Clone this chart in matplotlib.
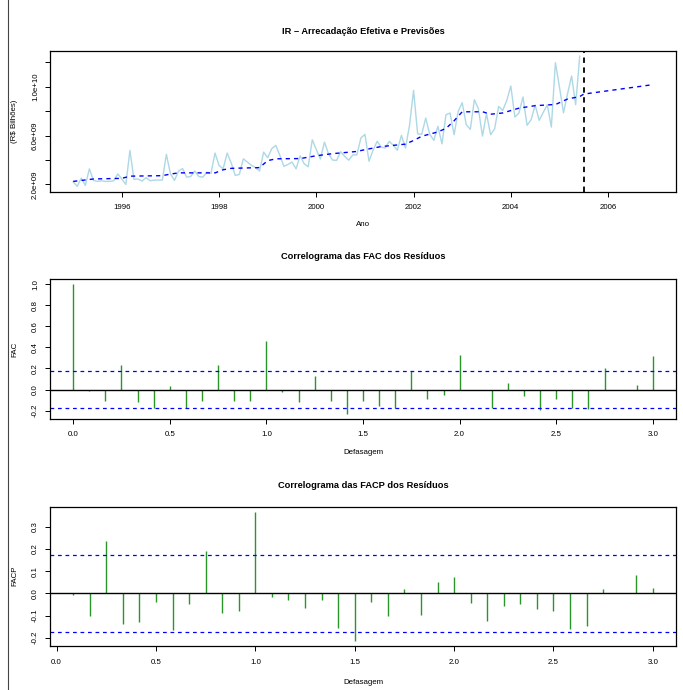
import numpy as np
import matplotlib.pyplot as plt
from matplotlib.lines import Line2D

plt.rcParams['font.family'] = ['Liberation Sans', 'DejaVu Sans']

# arrecadacao mensal do IR, jan/1995 a jun/2005 (R$ bilhoes)
ir_bilhoes = [2.20, 1.85, 2.52, 1.92, 3.28, 2.33, 2.25, 2.30, 2.25, 2.25, 2.30, 2.87,
              2.45, 2.00, 4.79, 2.42, 2.45, 2.28, 2.56, 2.30, 2.36, 2.36, 2.36, 4.46,
              2.87, 2.33, 3.10, 3.30, 2.60, 2.65, 3.10, 2.65, 2.60, 3.00, 2.90, 4.57,
              3.56, 3.28, 4.57, 3.75, 2.74, 2.82, 4.10, 3.83, 3.56, 3.38, 3.10, 4.65,
              4.19, 4.93, 5.20, 4.38, 3.48, 3.64, 3.83, 3.28, 4.35, 3.70, 3.45, 5.66,
              4.85, 4.08, 5.47, 4.52, 4.00, 3.97, 4.68, 4.30, 3.99, 4.42, 4.42, 5.80,
              6.10, 3.90, 4.80, 5.53, 5.07, 4.98, 5.53, 5.20, 4.80, 6.02, 4.98, 6.84,
              9.70, 6.15, 6.10, 7.44, 6.10, 5.61, 6.76, 5.33, 7.71, 7.85, 6.07, 7.98,
              8.69, 6.89, 6.51, 8.94, 8.20, 5.96, 7.79, 6.07, 6.56, 8.39, 8.06, 8.88,
              10.06, 7.52, 7.85, 9.16, 6.84, 7.30, 8.50, 7.25, 7.90, 8.53, 6.70, 11.97,
              9.98, 7.87, 9.43, 10.88, 8.53, 12.50]
inicio = 1995.0

# ajuste + previsao (vertices)
prev_tempo = [1995.00, 1995.42, 1996.00, 1996.17, 1996.83, 1997.00, 1997.17, 1997.92,
              1998.08, 1998.25, 1998.83, 1999.00, 1999.17, 1999.67, 2000.00, 2000.33,
              2000.83, 2001.00, 2001.33, 2001.83, 2002.00, 2002.17, 2002.50, 2002.67,
              2002.83, 2003.00, 2003.42, 2003.58, 2003.83, 2004.17, 2004.50, 2004.92,
              2005.17, 2005.42, 2005.50, 2006.92]
prev_valor = [2.25, 2.45, 2.50, 2.68, 2.72, 2.85, 2.95, 2.95,
              3.20, 3.32, 3.38, 3.95, 4.10, 4.12, 4.35, 4.52,
              4.70, 4.85, 5.10, 5.30, 5.60, 5.95, 6.30, 6.60,
              7.20, 7.95, 7.95, 7.75, 7.85, 8.25, 8.45, 8.55,
              9.00, 9.20, 9.40, 10.17]
corte = 2005.5

# FAC (defasagens 0..36) e FACP (1..36) dos residuos
fac = [1.00, -0.01, -0.105, 0.234, -0.12, -0.177, 0.038, -0.177, -0.11, 0.234,
       -0.105, -0.105, 0.462, -0.02, -0.117, 0.127, -0.105, -0.23, -0.105, -0.152,
       -0.171, 0.177, -0.085, -0.054, 0.329, -0.005, -0.171, 0.063, -0.063, -0.196,
       -0.085, -0.177, -0.187, 0.206, -0.005, 0.041, 0.316]
facp = [-0.009, -0.101, 0.236, -0.138, -0.131, -0.040, -0.163, -0.050, 0.193, -0.089,
        -0.079, 0.366, -0.018, -0.031, -0.068, -0.028, -0.155, -0.214, -0.037, -0.101,
        0.021, -0.097, 0.052, 0.073, -0.042, -0.125, -0.056, -0.048, -0.070, -0.079,
        -0.160, -0.146, 0.019, 0.0, 0.085, 0.024]

fs = 5.7
W, H = 683, 690
fig = plt.figure(figsize=(W / 100, H / 100), dpi=100)

def caixa(top, bottom, left=50, right=676):
    return fig.add_axes([left / W, 1 - bottom / H, (right - left) / W, (bottom - top) / H])

def estilo(ax):
    for s in ax.spines.values():
        s.set_linewidth(0.9)
    ax.tick_params(labelsize=fs, length=3.5, width=0.7, pad=4.5)
    ax.tick_params(axis='x', pad=5.5)
    ax.tick_params(axis='y', labelrotation=90)
    for lab in ax.get_yticklabels():
        lab.set_va('center')

def r_lim(lo, hi):
    d = 0.04 * (hi - lo)
    return lo - d, hi + d

cx = (50 + 676) / 2 / W

# ---- painel 1: serie e previsoes
ax1 = caixa(51, 191.5)
serie = np.array(ir_bilhoes) * 1e9
t = inicio + np.arange(len(serie)) / 12
ax1.plot(t, serie, color='lightblue', lw=1.0)
ax1.plot(prev_tempo, np.array(prev_valor) * 1e9, color='blue', lw=1.0, ls=(0, (3, 3)))
ax1.axvline(corte, color='black', lw=1.3, ls=(0, (3, 2.5)))
ax1.set_xlim(*r_lim(inicio, prev_tempo[-1]))
ax1.set_ylim(*r_lim(serie.min(), serie.max()))
ax1.set_xticks([1996, 1998, 2000, 2002, 2004, 2006])
ax1.set_yticks([2e9, 4e9, 6e9, 8e9, 1e10, 1.2e10])
ax1.set_yticklabels(['2.0e+09', '', '6.0e+09', '', '1.0e+10', ''])
estilo(ax1)
fig.text(cx, 1 - 32 / H, 'IR \u2013 Arrecada\u00e7\u00e3o Efetiva e Previs\u00f5es',
         ha='center', va='center', fontsize=6.7, fontweight='bold')
fig.text(cx, 1 - 225 / H, 'Ano', ha='center', va='center', fontsize=fs)
fig.text(15 / W, 1 - 121 / H, '(R$ Bilh\u00f5es)', ha='center', va='center',
         rotation=90, fontsize=fs)

limite = 1.96 / np.sqrt(len(serie))
verde = '#2a962a'

# ---- painel 2: FAC
ax2 = caixa(279, 419)
lag_fac = np.arange(len(fac)) / 12
ax2.vlines(lag_fac, 0, fac, color=verde, lw=1.0)
ax2.axhline(0, color='black', lw=1.0)
ax2.axhline(limite, color='blue', lw=0.9, ls=(0, (3, 3)))
ax2.axhline(-limite, color='blue', lw=0.9, ls=(0, (3, 3)))
ax2.set_xlim(*r_lim(lag_fac[0], lag_fac[-1]))
ax2.set_ylim(*r_lim(min(min(fac), -limite), max(max(fac), limite)))
ax2.set_xticks(np.arange(0, 3.01, 0.5))
ax2.set_xticklabels(['0.0', '0.5', '1.0', '1.5', '2.0', '2.5', '3.0'])
ax2.set_yticks([-0.2, 0.0, 0.2, 0.4, 0.6, 0.8, 1.0])
ax2.set_yticklabels(['-0.2', '0.0', '0.2', '0.4', '0.6', '0.8', '1.0'])
estilo(ax2)
fig.text(cx, 1 - 257 / H, 'Correlograma das FAC dos Res\u00edduos',
         ha='center', va='center', fontsize=6.7, fontweight='bold')
fig.text(cx, 1 - 453 / H, 'Defasagem', ha='center', va='center', fontsize=fs)
fig.text(15 / W, 1 - 349 / H, 'FAC', ha='center', va='center', rotation=90, fontsize=fs)

# ---- painel 3: FACP
ax3 = caixa(507, 646)
lag_facp = np.arange(1, len(facp) + 1) / 12
ax3.vlines(lag_facp, 0, facp, color=verde, lw=1.0)
ax3.axhline(0, color='black', lw=1.0)
ax3.axhline(limite, color='blue', lw=0.9, ls=(0, (3, 3)))
ax3.axhline(-limite, color='blue', lw=0.9, ls=(0, (3, 3)))
ax3.set_xlim(*r_lim(lag_facp[0], lag_facp[-1]))
ax3.set_ylim(*r_lim(min(facp), max(facp)))
ax3.set_xticks(np.arange(0, 3.01, 0.5))
ax3.set_xticklabels(['0.0', '0.5', '1.0', '1.5', '2.0', '2.5', '3.0'])
ax3.set_yticks([-0.2, -0.1, 0.0, 0.1, 0.2, 0.3])
ax3.set_yticklabels(['-0.2', '-0.1', '0.0', '0.1', '0.2', '0.3'])
estilo(ax3)
fig.text(cx, 1 - 485 / H, 'Correlograma das FACP dos Res\u00edduos',
         ha='center', va='center', fontsize=6.7, fontweight='bold')
fig.text(cx, 1 - 682 / H, 'Defasagem', ha='center', va='center', fontsize=fs)
fig.text(15 / W, 1 - 576 / H, 'FACP', ha='center', va='center', rotation=90, fontsize=fs)

# borda esquerda da imagem
fig.add_artist(Line2D([8 / W, 8 / W], [0, 1], color='#444444', lw=0.8))

fig.savefig('out.png', dpi=100)
